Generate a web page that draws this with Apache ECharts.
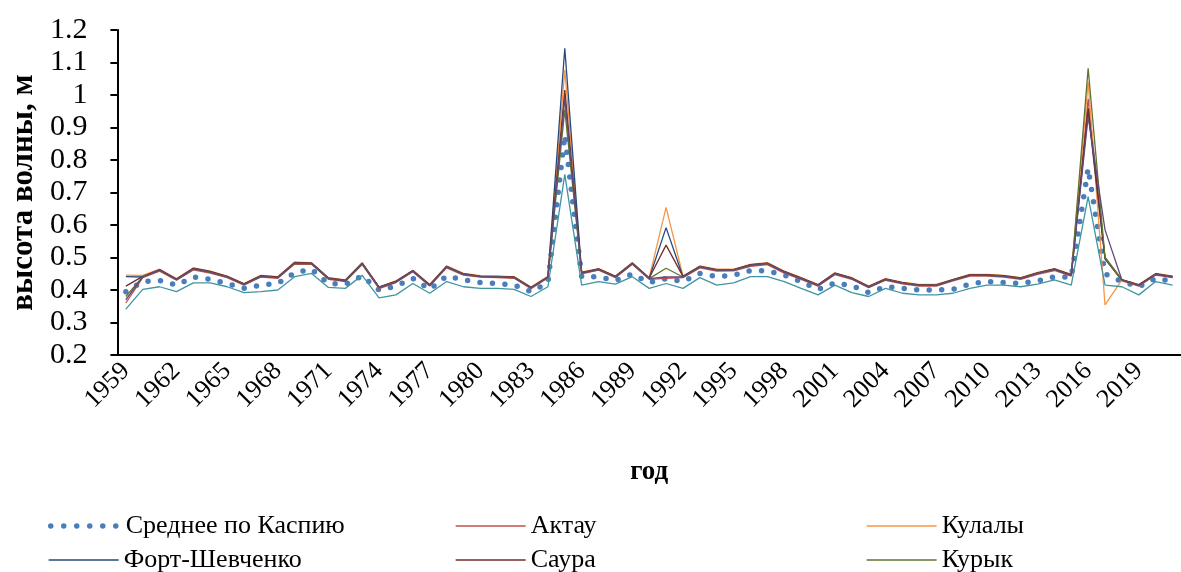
<!DOCTYPE html>
<html>
<head>
<meta charset="utf-8">
<script src="https://cdn.jsdelivr.net/npm/echarts@6/dist/echarts.min.js"></script>
<style>
html,body{margin:0;padding:0;background:#fff;}
#chart{width:1181px;height:572px;}
</style>
</head>
<body>
<div id="chart"></div>
<script>
const years = [];
for (let y = 1959; y <= 2021; y++) years.push(String(y));

const yTicks = { min: 0.2, max: 1.2, step: 0.1 };

const mean = [
  .395,.426,.429,.415,.440,.433,.420,.405,.415,.420,
  .453,.464,.420,.418,.443,.400,.412,.436,.402,.443,
  .431,.423,.420,.415,.395,.422,.877,.441,.441,.429,
  .449,.423,.435,.426,.451,.441,.446,.460,.459,.446,
  .426,.402,.422,.413,.392,.410,.405,.400,.400,.402,
  .418,.426,.423,.420,.428,.441,.440,.774,.450,.426,
  .410,.436,.426];

const aktau = [
  .360,.438,.458,.430,.462,.452,.438,.415,.440,.436,
  .480,.479,.433,.426,.478,.404,.423,.456,.412,.468,
  .446,.440,.438,.436,.404,.437,1.000,.450,.461,.438,
  .479,.433,.436,.438,.468,.458,.459,.473,.478,.452,
  .433,.412,.447,.433,.407,.430,.419,.412,.412,.428,
  .443,.443,.440,.433,.448,.460,.443,.988,.497,.428,
  .412,.446,.438];

const kulaly = [
  .446,.445,.464,.435,.468,.458,.443,.420,.445,.441,
  .486,.484,.438,.431,.484,.410,.428,.461,.417,.474,
  .451,.444,.443,.441,.409,.442,1.077,.455,.466,.443,
  .484,.438,.654,.443,.474,.464,.464,.479,.484,.458,
  .438,.417,.453,.438,.412,.435,.424,.417,.417,.433,
  .448,.448,.445,.438,.454,.466,.448,1.040,.354,.431,
  .417,.451,.443];

const fort = [
  .441,.440,.462,.433,.466,.456,.441,.418,.443,.439,
  .484,.482,.436,.429,.482,.408,.426,.459,.415,.472,
  .449,.442,.441,.439,.407,.440,1.144,.453,.464,.441,
  .482,.436,.592,.441,.472,.462,.462,.477,.482,.456,
  .436,.415,.451,.436,.410,.433,.422,.415,.415,.431,
  .446,.446,.443,.436,.452,.464,.446,.950,.495,.431,
  .415,.449,.441];

const saura = [
  .412,.442,.463,.434,.467,.457,.442,.419,.444,.440,
  .485,.483,.437,.430,.483,.409,.427,.460,.416,.473,
  .450,.443,.442,.440,.408,.441,1.015,.454,.465,.442,
  .483,.437,.538,.442,.473,.463,.463,.478,.483,.457,
  .437,.416,.452,.437,.411,.434,.423,.416,.416,.432,
  .447,.447,.444,.437,.453,.465,.447,.960,.500,.432,
  .416,.450,.442];

const kuryk = [
  .380,.441,.460,.432,.464,.454,.440,.417,.441,.438,
  .482,.481,.435,.428,.481,.407,.425,.458,.414,.471,
  .448,.441,.440,.438,.406,.439,.955,.452,.463,.440,
  .481,.435,.467,.440,.471,.461,.461,.476,.481,.455,
  .435,.414,.450,.435,.409,.432,.421,.414,.414,.430,
  .445,.445,.442,.435,.451,.463,.445,1.082,.500,.430,
  .414,.448,.440];

const extraPurple = [
  .370,.440,.461,.432,.465,.455,.440,.417,.442,.438,
  .483,.481,.435,.428,.481,.407,.425,.458,.414,.471,
  .448,.441,.440,.438,.406,.439,.990,.452,.463,.440,
  .481,.435,.440,.440,.471,.461,.461,.476,.481,.455,
  .435,.414,.450,.435,.409,.432,.421,.414,.414,.430,
  .445,.445,.442,.435,.451,.463,.445,.933,.585,.431,
  .414,.448,.440];

const extraTeal = [
  .341,.402,.410,.395,.422,.422,.410,.392,.395,.400,
  .441,.451,.408,.405,.445,.376,.385,.420,.390,.426,
  .410,.405,.405,.402,.380,.410,.756,.415,.426,.418,
  .441,.405,.420,.405,.438,.415,.422,.441,.441,.426,
  .405,.385,.415,.392,.380,.405,.390,.385,.385,.390,
  .405,.415,.415,.410,.418,.431,.415,.687,.415,.410,
  .385,.426,.415];

const FONT = 'Liberation Serif';
const MEAN_COLOR = '#4a7ebb';

function line(name, data, color, extra) {
  return Object.assign({
    name, type: 'line', data, symbol: 'none', smooth: false,
    lineStyle: { color, width: 1.3 }, itemStyle: { color },
    emphasis: { disabled: true }, animation: false
  }, extra || {});
}

const series = [
  line('Среднее по Каспию', mean, MEAN_COLOR, {
    lineStyle: { color: MEAN_COLOR, width: 5.5, type: [0, 12.5], cap: 'round' }, z: 3
  }),
  line('Актау', aktau, '#c0504d'),
  line('Кулалы', kulaly, '#f79646'),
  line('Форт-Шевченко', fort, '#254a7d'),
  line('Саура', saura, '#772c2a'),
  line('Курык', kuryk, '#5f7530'),
  line('ряд 7', extraTeal, '#3f95a3'),
  line('ряд 8', extraPurple, '#604a7b')
];

const legendPos = [
  ['Среднее по Каспию', 48, 512],
  ['Актау', 455, 512],
  ['Кулалы', 866, 512],
  ['Форт-Шевченко', 48, 546],
  ['Саура', 455, 546],
  ['Курык', 866, 546]
];

const chart = echarts.init(document.getElementById('chart'), null, { renderer: 'canvas' });
chart.setOption({
  backgroundColor: '#fff',
  animation: false,
  grid: { left: 112, top: 30, height: 325, width: 1071 },
  legend: legendPos.map(([n, l, t], i) => ({
    data: [n], left: l, top: t + 1, padding: 0,
    itemWidth: 70, itemHeight: 14, itemGap: 8,
    itemStyle: { opacity: 0 },
    lineStyle: i === 0
      ? { width: 5.5, type: [0, 13], cap: 'round', color: MEAN_COLOR }
      : { width: 1.3 },
    textStyle: { fontFamily: FONT, fontSize: 26, color: '#000' },
    selectedMode: false
  })),
  xAxis: {
    type: 'category', data: years, boundaryGap: true,
    name: 'год', nameLocation: 'middle', nameGap: 104,
    nameTextStyle: { fontFamily: FONT, fontSize: 27, fontWeight: 'bold', color: '#000' },
    axisLine: { lineStyle: { color: '#000', width: 2 } },
    axisTick: { interval: 0, length: 7, lineStyle: { color: '#000', width: 2 } },
    axisLabel: { interval: 2, rotate: 45, margin: 12, fontFamily: FONT, fontSize: 26, color: '#000' },
    splitLine: { show: false }
  },
  yAxis: {
    type: 'value', min: yTicks.min, max: yTicks.max, interval: yTicks.step,
    name: 'высота волны, м', nameLocation: 'middle', nameGap: 76, nameRotate: 90,
    nameTextStyle: { fontFamily: FONT, fontSize: 31, fontWeight: 'bold', color: '#000' },
    axisLine: { show: true, lineStyle: { color: '#000', width: 2 } },
    axisTick: { show: true, length: 7, lineStyle: { color: '#000', width: 2 } },
    axisLabel: { margin: 30, fontFamily: FONT, fontSize: 30, color: '#000',
      formatter: v => String(Math.round(v * 10) / 10) },
    splitLine: { show: false }
  },
  series
});
</script>
</body>
</html>
